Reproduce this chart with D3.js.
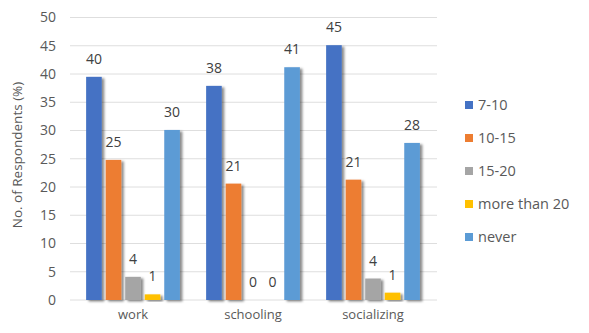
<!DOCTYPE html>
<html><head><meta charset="utf-8">
<script src="https://cdn.jsdelivr.net/npm/d3@7"></script>
<style>body{margin:0;background:#fff;} text{font-family:"Open Sans","Noto Sans",sans-serif;}</style>
</head><body><svg id="c" width="589" height="333"></svg>
<script>
const categories = ["work", "schooling", "socializing"];
const seriesNames = ["7-10", "10-15", "15-20", "more than 20", "never"];
const colors = ["#4472C4", "#ED7D31", "#A5A5A5", "#FFC000", "#5B9BD5"];
const v7to10 = [39.5, 37.9, 45.1];
const v10to15 = [24.8, 20.6, 21.3];
const v15to20 = [4.1, 0, 3.8];
const vMore20 = [1.0, 0, 1.3];
const vNever = [30.1, 41.2, 27.8];
const labels7to10 = [40, 38, 45];
const labels10to15 = [25, 21, 21];
const labels15to20 = [4, 0, 4];
const labelsMore20 = [1, 0, 1];
const labelsNever = [30, 41, 28];
const yTicks = [0, 5, 10, 15, 20, 25, 30, 35, 40, 45, 50];
const yTitle = "No. of Respondents (%)";

const values = [v7to10, v10to15, v15to20, vMore20, vNever];
const lbls = [labels7to10, labels10to15, labels15to20, labelsMore20, labelsNever];

const svg = d3.select("#c");
const defs = svg.append("defs");
const f = defs.append("filter").attr("id","sh").attr("x","-30%").attr("y","-10%").attr("width","170%").attr("height","130%");
f.append("feDropShadow").attr("dx",2.5).attr("dy",1.5).attr("stdDeviation",1.3).attr("flood-color","#000").attr("flood-opacity",0.45);

const x0 = d3.scaleBand().domain(categories).range([73, 433]);
const x1 = d3.scaleBand().domain(seriesNames).range([0, 93.75]).paddingInner(0.2);
const y = d3.scaleLinear().domain([0, 50]).range([300, 17.5]);

// grid
svg.append("g").selectAll("line").data(yTicks).join("line")
  .attr("x1", 70).attr("x2", 437)
  .attr("y1", d => y(d)).attr("y2", d => y(d))
  .attr("stroke", "#dedede").attr("stroke-width", 1);

const yAxis = d3.axisLeft(y).tickValues(yTicks).tickSize(0).tickPadding(0);
const ga = svg.append("g").attr("transform", "translate(56,0)").call(yAxis);
ga.select(".domain").remove();
ga.selectAll("text").attr("font-size", 14).attr("fill", "#595959").attr("font-family", "'Open Sans', sans-serif");

svg.append("text").attr("transform", "translate(22,155) rotate(-90)")
  .attr("text-anchor", "middle").attr("font-size", 13.5).attr("fill", "#595959").text(yTitle);

const xAxis = d3.axisBottom(x0).tickSize(0).tickPadding(0);
const gx = svg.append("g").attr("transform", "translate(0,310)").call(xAxis);
gx.select(".domain").remove();
gx.selectAll("text").attr("font-size", 13).attr("fill", "#595959").attr("font-family", "'Open Sans', sans-serif");

const groupOffset = (x0.bandwidth() - 93.75) / 2;
seriesNames.forEach((s, si) => {
  const g = svg.append("g");
  g.selectAll("rect").data(categories).join("rect")
    .attr("x", (c) => x0(c) + groupOffset + x1(s))
    .attr("width", x1.bandwidth())
    .attr("y", (c, i) => y(values[si][i]))
    .attr("height", (c, i) => y(0) - y(values[si][i]))
    .attr("fill", colors[si])
    .attr("filter", (c, i) => values[si][i] > 0 ? "url(#sh)" : null);
  g.selectAll("text").data(categories).join("text")
    .attr("x", (c) => x0(c) + groupOffset + x1(s) + x1.bandwidth() / 2)
    .attr("y", (c, i) => y(values[si][i]) - 13)
    .attr("text-anchor", "middle").attr("font-size", 14).attr("fill", "#404040")
    .text((c, i) => lbls[si][i]);
});

// legend
const lg = svg.append("g");
seriesNames.forEach((s, i) => {
  const yy = 105 + i * 33;
  lg.append("rect").attr("x", 465).attr("y", yy - 4).attr("width", 8).attr("height", 8).attr("fill", colors[i]);
  lg.append("text").attr("x", 478).attr("y", yy).attr("dy", "0.35em").attr("font-size", 14.5).attr("fill", "#595959").text(s);
});
</script></body></html>
